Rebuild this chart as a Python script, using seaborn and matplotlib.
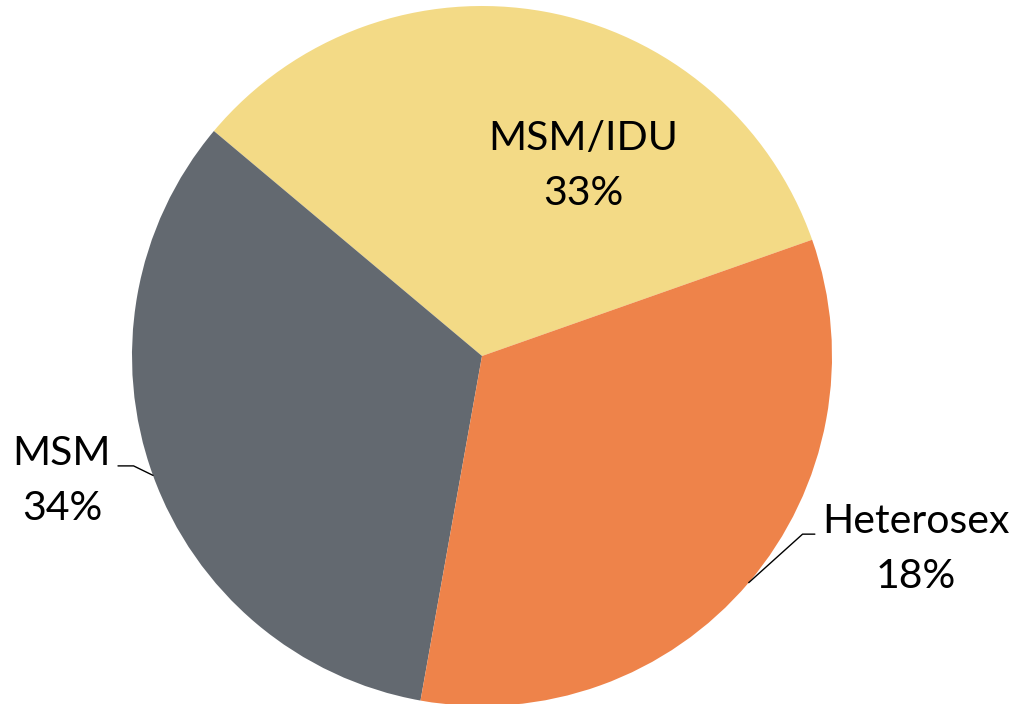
import numpy as np
import matplotlib
matplotlib.use("Agg")
import matplotlib.pyplot as plt
import seaborn as sns

# slice sizes as drawn (the three wedges are near equal in the picture)
groups = ["MSM/IDU", "MSM", "Heterosex"]
slice_sizes = [33.5, 33.3, 33.2]
pct_labels = ["33%", "34%", "18%"]
colors = ["#F3DA86", "#636970", "#EE834A"]

sns.set_theme(style="white")
plt.rcParams['font.family'] = ['Lato', 'DejaVu Sans']

fig = plt.figure(figsize=(10.17, 7.04), dpi=100)
ax = fig.add_axes([132 / 1017, -2 / 704, 700 / 1017, 700 / 704])

wedges, _ = ax.pie(slice_sizes, colors=colors, startangle=19.4,
                   counterclock=True, radius=1.0,
                   wedgeprops=dict(linewidth=0))
ax.set_xlim(-1, 1)
ax.set_ylim(-1, 1)
ax.axis("off")

def mid_point(w):
    ang = np.deg2rad((w.theta1 + w.theta2) / 2)
    return np.cos(ang), np.sin(ang)

txt_kw = dict(fontsize=29.5, color="black", ha="center", va="center",
              linespacing=1.6)

# MSM/IDU label inside the slice
ax.text(0.289, 0.543, f"{groups[0]}\n{pct_labels[0]}", **txt_kw)

# MSM label outside with leader line
ax.text(-1.20, -0.357, f"{groups[1]}\n{pct_labels[1]}", **txt_kw)
ax.annotate("", xy=mid_point(wedges[1]), xytext=(-1.04, -0.314),
            arrowprops=dict(arrowstyle="-", color="black", lw=1,
                            shrinkA=0, shrinkB=0,
                            connectionstyle="angle,angleA=0,angleB=154,rad=0"))

# Heterosex label outside with leader line
ax.text(1.24, -0.551, f"{groups[2]}\n{pct_labels[2]}", **txt_kw)
ax.annotate("", xy=mid_point(wedges[2]), xytext=(0.951, -0.509),
            arrowprops=dict(arrowstyle="-", color="black", lw=1,
                            shrinkA=0, shrinkB=0,
                            connectionstyle="angle,angleA=0,angleB=42,rad=0"))

fig.savefig("out.png", dpi=100, facecolor="white")
